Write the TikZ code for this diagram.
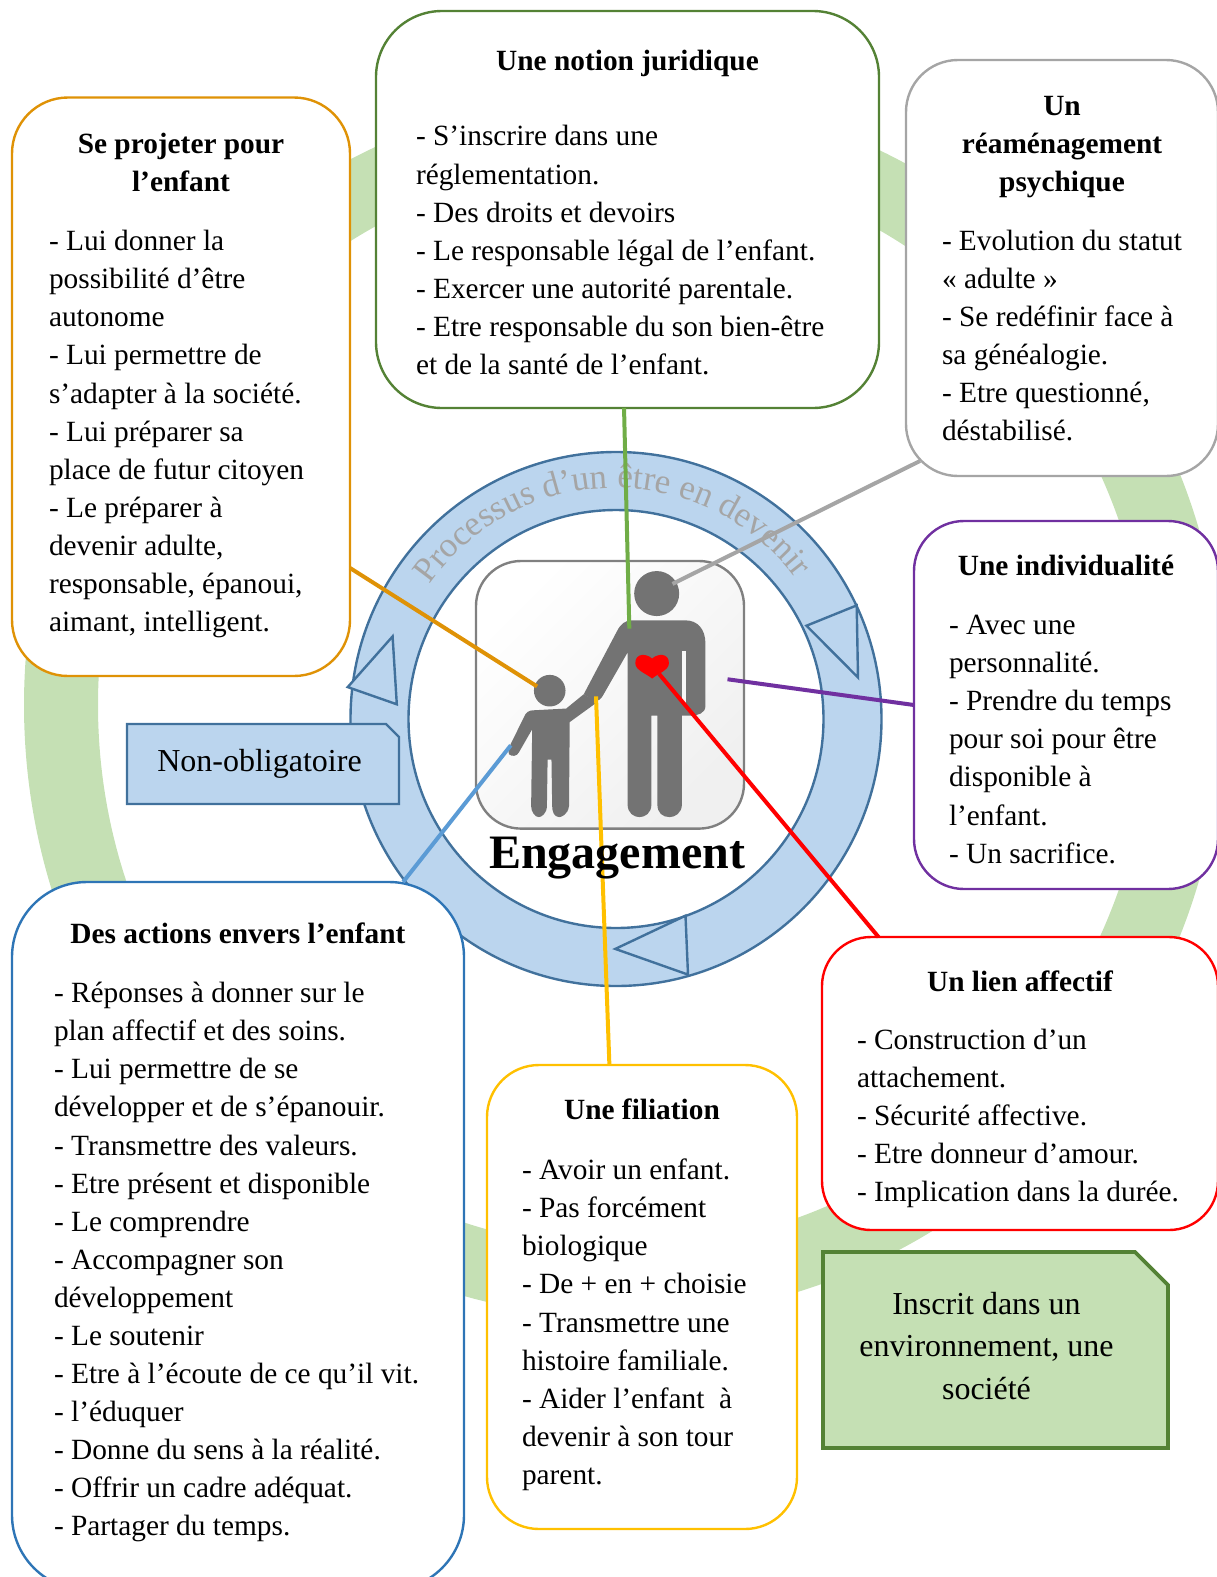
\documentclass[tikz,border=0pt]{standalone}
\usepackage{fontspec}
\setmainfont{Liberation Serif}
\usetikzlibrary{calc,decorations.text,shapes.misc}
\definecolor{ringgreen}{HTML}{C5E0B4}
\definecolor{ringblue}{HTML}{BBD5EE}
\definecolor{edgeblue}{HTML}{41719C}
\definecolor{boxgreen}{HTML}{548235}
\definecolor{boxorange}{HTML}{DF9206}
\definecolor{boxgray}{HTML}{A5A5A5}
\definecolor{boxpurple}{HTML}{7030A0}
\definecolor{boxgold}{HTML}{FFC000}
\definecolor{boxblue}{HTML}{2E75B6}
\definecolor{linegreen}{HTML}{70AD47}
\definecolor{lineblue}{HTML}{5B9BD5}
\definecolor{figgray}{HTML}{737373}
\newcommand{\boxtitle}[1]{{\centering\bfseries\strut #1\par}}
\begin{document}
\begin{tikzpicture}[x=1pt,y=-1pt]
\tikzstyle{Box}=[draw, fill=white, line width=2.4pt, anchor=north west, outer sep=0pt, inner ysep=0pt, font=\fontsize{29.35}{38.05}\selectfont];
\tikzstyle{Note}=[draw, chamfered rectangle, chamfered rectangle corners=north east, inner sep=0pt, outer sep=0pt, anchor=north west, font=\fontsize{32}{42.75}\selectfont];
\tikzstyle{link}=[line width=4pt];
\tikzstyle{tip}=[draw=edgeblue, fill=ringblue, line width=2.4pt];
\tikzstyle{fig}=[fill=figgray];
\useasboundingbox (0,0) rectangle (1217,1577);
\clip (0,0) rectangle (1217,1577);
\fill [ringgreen, even odd rule] (624,705) ellipse [x radius=600pt, y radius=613pt] (624,705) ellipse [x radius=526pt, y radius=543pt];
\draw [draw=edgeblue, fill=ringblue, line width=2.4pt, even odd rule] (616,719) ellipse [x radius=265.5pt, y radius=267pt] (616,719) ellipse [x radius=207.5pt, y radius=209pt];
\draw [tip] (806.5,625.7) -- (856.7,605.4) -- (858,677.5) -- cycle;
\draw [tip] (392.6,636.4) -- (347.7,687.1) -- (396.8,704.3) -- cycle;
\draw [tip] (685.5,915.7) -- (615.3,948.9) -- (688,974.6) -- cycle;
\path [decorate, decoration={text along path, text align=center, text={|\fontsize{35}{35}\selectfont\color{boxgray}|Processus d’un être en devenir}}] (417.3,604.4) arc [start angle=151, end angle=31, radius=226pt];
\node [draw=gray, line width=2.4pt, rounded corners=45pt, left color=white, right color=white!94!black, shading angle=45, minimum width=268pt, minimum height=267.6pt, outer sep=0pt] (icon) at (610,694.8) {};
\begin{scope}[shift={(340,440)},x=0.3507pt,y=-0.3571pt]
\fill [fig] (903,430) ellipse [x radius=22.5pt, y radius=22.5pt];
\fill [fig] (830,505) -- (985,505) .. controls (1020,505) and (1042,530) .. (1042,570) -- (1042,745) .. controls (1042,765) and (1020,772) .. (1000,772) -- (975,772) -- (975,1020) .. controls (975,1045) and (955,1056) .. (940,1056) .. controls (920,1056) and (905,1045) .. (905,1020) -- (905,772) -- (888,772) -- (888,1020) .. controls (888,1045) and (870,1056) .. (854,1056) .. controls (838,1056) and (820,1045) .. (820,1020) -- (820,595) -- (750,715) .. controls (745,725) and (735,733) .. (725,730) -- (695,712) -- (790,535) .. controls (800,515) and (815,505) .. (830,505) -- cycle;
\fill [white!97!black] (975,590) rectangle (988,738);
\fill [fig] (598,702) ellipse [x radius=15.8pt, y radius=15.8pt];
\fill [fig] (550,757) -- (645,752) -- (695,712) -- (735,733) -- (655,790) -- (653,1025) .. controls (650,1050) and (630,1056) .. (625,1056) .. controls (610,1056) and (605,1040) .. (605,1025) -- (603,895) -- (592,895) -- (590,1025) .. controls (590,1045) and (575,1056) .. (567,1056) .. controls (555,1056) and (545,1040) .. (545,1025) -- (548,810) -- (510,875) .. controls (505,885) and (490,888) .. (482,880) .. controls (478,870) and (483,860) .. (485,855) -- (525,775) .. controls (530,762) and (540,757) .. (550,757) -- cycle;
\fill [red] (890,612) .. controls (875,598) and (842,595) .. (842,625) .. controls (842,645) and (875,655) .. (890,668) .. controls (905,655) and (938,645) .. (938,625) .. controls (938,595) and (905,598) .. (890,612) -- cycle;
\coordinate (back) at (825,528);
\coordinate (childhead) at (562,690);
\coordinate (fatherhead) at (948,403);
\coordinate (iconedge) at (1105,670);
\coordinate (heart) at (910,655);
\coordinate (hand) at (730,718);
\coordinate (childarm) at (487,855);
\end{scope}
\node [Box, draw=boxgreen, rounded corners=66pt, inner xsep=40pt] (b1) at (376,11) {\parbox[c][397pt][t]{423pt}{\vspace*{32.8pt}\boxtitle{Une notion juridique}\vspace{37.5pt}\raggedright
- S’inscrire dans une\\
réglementation.\\
- Des droits et devoirs\\
- Le responsable légal de l’enfant.\\
- Exercer une autorité parentale.\\
- Etre responsable du son bien-être\\
et de la santé de l’enfant.}};
\node [Box, draw=boxorange, rounded corners=56pt, inner xsep=37pt] (b2) at (12,97.5) {\parbox[c][578.5pt][t]{264pt}{\vspace*{29.8pt}\boxtitle{Se projeter pour\\ l’enfant}\vspace{20.8pt}\raggedright
- Lui donner la\\
possibilité d’être\\
autonome\\
- Lui permettre de\\
s’adapter à la société.\\
- Lui préparer sa\\
place de futur citoyen\\
- Le préparer à\\
devenir adulte,\\
responsable, épanoui,\\
aimant, intelligent.}};
\node [Box, draw=boxgray, rounded corners=52pt, inner xsep=36pt] (b3) at (906,60) {\parbox[c][416pt][t]{240pt}{\vspace*{28.8pt}\boxtitle{Un\\ réaménagement\\ psychique}\vspace{21pt}\raggedright
- Evolution du statut\\
« adulte »\\
- Se redéfinir face à\\
sa généalogie.\\
- Etre questionné,\\
déstabilisé.}};
\node [Box, draw=boxpurple, rounded corners=50pt, inner xsep=35pt] (b4) at (914,521) {\parbox[c][368pt][t]{234pt}{\vspace*{28.3pt}\boxtitle{Une individualité}\vspace{20.8pt}\raggedright
- Avec une\\
personnalité.\\
- Prendre du temps\\
pour soi pour être\\
disponible à\\
l’enfant.\\
- Un sacrifice.}};
\node [Box, draw=red, rounded corners=49pt, inner xsep=35pt] (b5) at (822,937) {\parbox[c][293pt][t]{326pt}{\vspace*{28.3pt}\boxtitle{Un lien affectif}\vspace{19.8pt}\raggedright
- Construction d’un\\
attachement.\\
- Sécurité affective.\\
- Etre donneur d’amour.\\
- Implication dans la durée.}};
\node [Box, draw=boxgold, rounded corners=52pt, inner xsep=35pt] (b6) at (487,1065) {\parbox[c][464pt][t]{240pt}{\vspace*{28.3pt}\boxtitle{Une filiation}\vspace{21.8pt}\raggedright
- Avoir un enfant.\\
- Pas forcément\\
biologique\\
- De + en + choisie\\
- Transmettre une\\
histoire familiale.\\
- Aider l’enfant~ à\\
devenir à son tour\\
parent.}};
\node [Box, draw=boxblue, rounded corners=75pt, inner xsep=42pt] (b7) at (12,882) {\parbox[c][708pt][t]{368pt}{\vspace*{34.8pt}\boxtitle{Des actions envers l’enfant}\vspace{21.3pt}\raggedright
- Réponses à donner sur le\\
plan affectif et des soins.\\
- Lui permettre de se\\
développer et de s’épanouir.\\
- Transmettre des valeurs.\\
- Etre présent et disponible\\
- Le comprendre\\
- Accompagner son\\
développement\\
- Le soutenir\\
- Etre à l’écoute de ce qu’il vit.\\
- l’éduquer\\
- Donne du sens à la réalité.\\
- Offrir un cadre adéquat.\\
- Partager du temps.}};
\node [Note, draw=edgeblue, fill=ringblue, line width=2.4pt, chamfered rectangle xsep=6.5pt, chamfered rectangle ysep=6.5pt, minimum width=272pt, minimum height=80pt] (n1) at (127,724) {Non-obligatoire\kern7pt};
\node [Note, draw=boxgreen, fill=ringgreen, line width=3.6pt, chamfered rectangle xsep=16.5pt, chamfered rectangle ysep=16.5pt, minimum width=345pt, minimum height=196pt] (n2) at (823,1252) {\parbox[c][150pt][t]{280pt}{\vspace*{9.1pt}\centering\strut Inscrit dans un\\ environnement, une\\ société}\kern18pt};
\draw [link, linegreen] (b1.-91.2) edge (back);
\draw [link, boxorange] (b2.-47.2) edge (childhead);
\draw [link, boxgray] ($(b3.south west)+(14,-15)$) edge (fatherhead);
\draw [link, boxpurple] (b4.west) edge (iconedge);
\draw [link, red] (b5.134.85) edge (heart);
\draw [link, boxgold] (b6.98) edge (hand);
\draw [link, lineblue] (b7.65.1) edge (childarm);
\node [anchor=base, font=\bfseries\fontsize{48}{48}\selectfont] (title) at (617,868) {Engagement};
\end{tikzpicture}
\end{document}
